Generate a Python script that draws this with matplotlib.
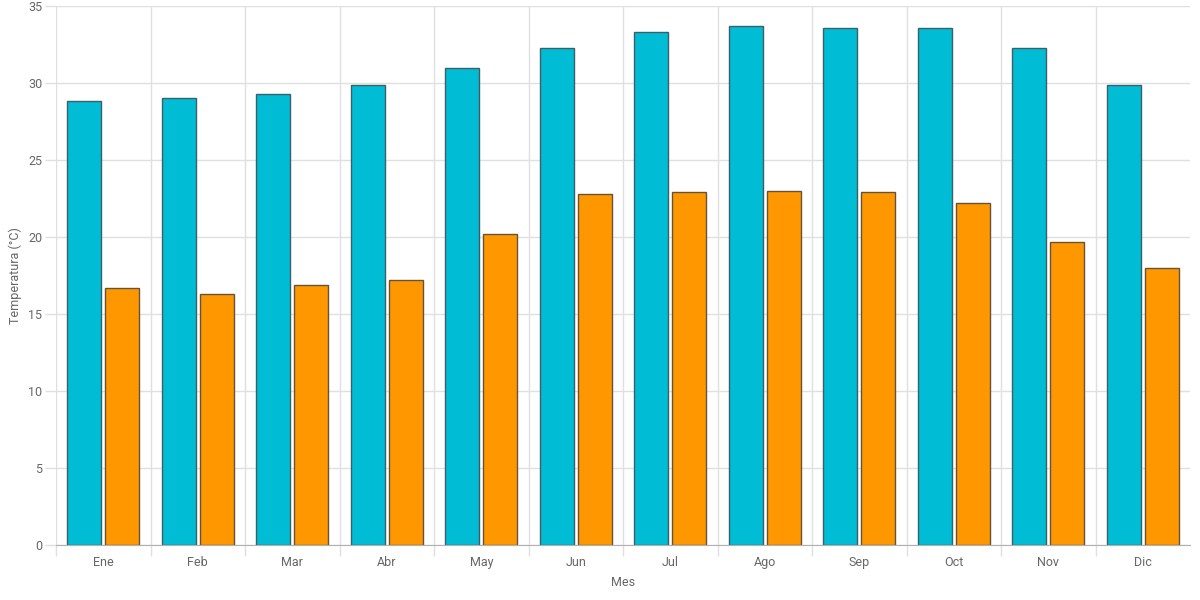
import numpy as np
import matplotlib
matplotlib.use('Agg')
import matplotlib.pyplot as plt
from matplotlib.ticker import MultipleLocator, FixedLocator

plt.rcParams['font.family'] = ['Liberation Sans Narrow', 'Roboto', 'DejaVu Sans']

meses = ['Ene', 'Feb', 'Mar', 'Abr', 'May', 'Jun', 'Jul', 'Ago', 'Sep', 'Oct', 'Nov', 'Dic']
temp_max = [28.8, 29.0, 29.3, 29.9, 31.0, 32.3, 33.3, 33.7, 33.6, 33.6, 32.3, 29.9]
temp_min = [16.7, 16.3, 16.9, 17.2, 20.2, 22.8, 22.9, 23.0, 22.9, 22.2, 19.7, 18.0]

fig = plt.figure(figsize=(12, 6), dpi=100)
ax = fig.add_axes([0.0467, 0.0917, 0.9450, 0.8983])

x = np.arange(len(meses))
w = 0.36
ax.bar(x - 0.2, temp_max, w, color='#00bcd4', edgecolor='#3d5f66', linewidth=1.0, zorder=3)
ax.bar(x + 0.2, temp_min, w, color='#ff9800', edgecolor='#665238', linewidth=1.0, zorder=3)

ax.set_xlim(-0.5, 11.5)
ax.set_ylim(0, 35)
ax.yaxis.set_major_locator(MultipleLocator(5))
ax.set_xticks(x)
ax.set_xticklabels(meses)
ax.xaxis.set_minor_locator(FixedLocator(np.arange(-0.5, 11.0, 1.0)))

ax.grid(axis='y', which='major', color='#e0e0e0', linewidth=1, zorder=0)
ax.grid(axis='x', which='minor', color='#e0e0e0', linewidth=1, zorder=0)
ax.tick_params(axis='x', which='major', length=0, pad=8, labelsize=9, colors='#666666')
ax.tick_params(axis='x', which='minor', length=8, color='#e0e0e0', width=1)
ax.tick_params(axis='y', length=8, color='#e0e0e0', width=1, pad=2, labelsize=9, colors='#666666')
ax.tick_params(axis='y', which='major', color='#e0e0e0')

for s in ['top', 'right', 'left']:
    ax.spines[s].set_visible(False)
ax.spines['bottom'].set_color('#b0b0b0')
ax.spines['bottom'].set_zorder(4)

ax.set_xlabel('Mes', fontsize=9, color='#666666', labelpad=5)
ax.set_ylabel('Temperatura (°C)', fontsize=9, color='#666666', labelpad=4)

fig.savefig('out.png', dpi=100)
